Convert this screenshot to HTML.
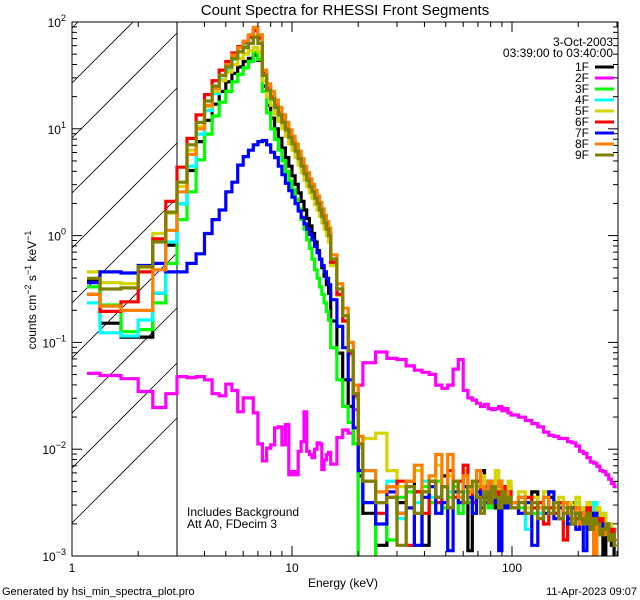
<!DOCTYPE html>
<html><head><meta charset="utf-8"><style>
html,body{margin:0;padding:0;background:#fff;}
svg{display:block;font-family:"Liberation Sans",sans-serif;}
</style></head><body>
<svg id="chart" width="640" height="600" viewBox="0 0 640 600" xmlns="http://www.w3.org/2000/svg">
<defs><clipPath id="plotclip"><rect x="72" y="22" width="546" height="534"/></clipPath></defs>
<rect x="0" y="0" width="640" height="600" fill="#fff"/>
<text x="345" y="15" font-size="15" text-anchor="middle">Count Spectra for RHESSI Front Segments</text>
<g id="hatch" clip-path="url(#plotclip)"></g>
<line x1="177" y1="22" x2="177" y2="556" stroke="#000" stroke-width="1"/>
<g id="series" clip-path="url(#plotclip)"></g>
<g id="axes"></g>
<text x="343" y="587" font-size="12" text-anchor="middle">Energy (keV)</text>
<text transform="translate(36,290) rotate(-90)" font-size="12" text-anchor="middle">counts cm<tspan dy="-5" font-size="9">−2</tspan><tspan dy="5"> s</tspan><tspan dy="-5" font-size="9">−1</tspan><tspan dy="5"> keV</tspan><tspan dy="-5" font-size="9">−1</tspan></text>
<text x="187" y="516" font-size="12">Includes Background</text>
<text x="187" y="528" font-size="12">Att A0, FDecim 3</text>
<text x="613" y="46" font-size="12" text-anchor="end">3-Oct-2003</text>
<text x="613" y="57" font-size="12" text-anchor="end">03:39:00 to 03:40:00</text>
<g id="legend"></g>
<text x="2" y="595" font-size="11">Generated by hsi_min_spectra_plot.pro</text>
<text x="637" y="595" font-size="11" text-anchor="end">11-Apr-2023 09:07</text>
</svg>
<script>
// ---- data (log10 counts cm^-2 s^-1 keV^-1) ----
const segments = ["1F","2F","3F","4F","5F","6F","7F","8F","9F"];
const colors = ["#000000","#ff00ff","#00ff00","#00ffff","#d4d400","#ff0000","#0000ff","#ff8000","#808000"];
const lowEdges = [1.17,1.34,1.67,2.0,2.33,2.67,3.0];
const xTickValues = [1,10,100];
const xTickLabels = ["1","10","100"];
const yTickExps = [-3,-2,-1,0,1,2];

const low1F=[-0.42,-0.82,-0.95,-0.95,-0.54,-0.09];
const low2F=[-1.29,-1.31,-1.34,-1.46,-1.61,-1.48];
const low3F=[-0.48,-0.65,-0.90,-0.88,-0.63,-0.26];
const low4F=[-0.63,-0.91,-0.94,-0.79,-0.54,-0.06];
const low5F=[-0.34,-0.44,-0.45,-0.30,0.02,0.21];
const low6F=[-0.55,-0.71,-0.62,-0.34,-0.03,0.32];
const low7F=[-0.44,-0.34,-0.35,-0.28,-0.26,-0.34];
const low8F=[-0.55,-0.66,-0.70,-0.70,-0.32,0.05];
const low9F=[-0.40,-0.50,-0.49,-0.29,-0.06,0.22];

const therm1F=[0.30,0.61,0.88,1.08,1.23,1.35,1.44,1.52,1.58,1.63,1.66,1.69,1.64,1.40,1.22,1.10,1.00,0.91,0.82,0.73,0.65,0.56,0.48,0.40,0.32,0.24,0.16,0.09,0.02,-0.06,-0.14,-0.22,-0.30,-0.38,-0.46,-0.54,-0.80,-1.10,-1.35,-1.60,-1.95,-2.25];
const therm2F=[-1.32,-1.33,-1.32,-1.35,-1.48,-1.50,-1.39,-1.45,-1.65,-1.52,-1.52,-1.66,-1.95,-2.11,-1.99,-1.96,-1.80,-1.79,-1.96,-1.77,-2.24,-2.21,-2.24,-2.02,-1.93,-1.65,-2.02,-2.05,-2.08,-2.00,-1.94,-1.95,-2.19,-2.10,-2.05,-2.03,-2.14,-1.89,-1.82,-1.85,-1.63,-1.40];
const therm3F=[0.15,0.41,0.71,0.95,1.12,1.25,1.35,1.44,1.51,1.57,1.63,1.72,1.65,1.35,1.15,1.00,0.90,0.80,0.70,0.60,0.51,0.43,0.34,0.25,0.15,0.06,-0.04,-0.12,-0.22,-0.32,-0.40,-0.48,-0.55,-0.63,-0.71,-0.79,-1.05,-1.35,-1.60,-1.75,-1.95,-3.3];
const therm4F=[0.30,0.65,0.95,1.17,1.33,1.46,1.56,1.65,1.72,1.78,1.85,1.92,1.84,1.50,1.35,1.27,1.19,1.12,1.05,0.98,0.91,0.85,0.78,0.71,0.64,0.57,0.51,0.45,0.40,0.34,0.29,0.23,0.17,0.11,0.05,-0.01,-0.27,-0.55,-0.80,-1.12,-1.52,-1.98];
const therm5F=[0.46,0.80,1.02,1.21,1.35,1.45,1.53,1.60,1.66,1.70,1.73,1.76,1.72,1.45,1.30,1.22,1.14,1.07,1.00,0.93,0.86,0.80,0.73,0.66,0.59,0.52,0.46,0.40,0.35,0.29,0.24,0.18,0.12,0.06,0.00,-0.06,-0.28,-0.56,-0.80,-1.12,-1.52,-1.98];
const therm6F=[0.64,0.91,1.13,1.32,1.45,1.55,1.63,1.71,1.77,1.81,1.86,1.92,1.85,1.52,1.38,1.30,1.22,1.15,1.08,1.01,0.94,0.88,0.81,0.74,0.67,0.60,0.54,0.48,0.43,0.37,0.32,0.26,0.20,0.14,0.08,0.02,-0.25,-0.55,-0.80,-1.10,-1.50,-1.95];
const therm7F=[-0.34,-0.26,-0.17,0.02,0.15,0.24,0.41,0.50,0.66,0.74,0.80,0.85,0.88,0.89,0.85,0.78,0.73,0.65,0.57,0.49,0.42,0.36,0.30,0.23,0.17,0.11,0.06,0.01,-0.04,-0.10,-0.16,-0.22,-0.28,-0.34,-0.40,-0.46,-0.60,-0.85,-1.05,-1.35,-1.80,-2.2];
const therm8F=[0.41,0.76,1.00,1.22,1.38,1.50,1.60,1.69,1.76,1.82,1.88,1.95,1.88,1.55,1.42,1.35,1.27,1.20,1.13,1.06,0.99,0.93,0.86,0.79,0.72,0.65,0.59,0.53,0.48,0.42,0.37,0.31,0.25,0.19,0.13,0.07,-0.18,-0.45,-0.68,-1.00,-1.40,-1.88];
const therm9F=[0.50,0.85,1.06,1.26,1.40,1.50,1.58,1.66,1.72,1.76,1.80,1.86,1.80,1.50,1.36,1.28,1.20,1.13,1.06,0.99,0.92,0.86,0.79,0.72,0.65,0.58,0.52,0.46,0.41,0.35,0.30,0.24,0.18,0.12,0.06,0.00,-0.22,-0.50,-0.75,-1.08,-1.48,-1.95];

const noise1F=[-2.6,-2.9,-2.35,-2.5,-2.3,-2.4,-2.9,-2.3,-2.45,-2.25,-2.55,-2.4,-2.3,-2.35,-2.95,-2.5,-2.3,-2.2,-2.45,-2.35,-2.5,-2.55,-2.3,-2.4,-2.45,-2.35,-2.5,-2.45,-2.6,-2.4,-2.5,-2.55,-2.45,-2.6,-2.5,-2.55,-2.65,-2.5,-2.6,-2.7,-2.55,-2.6,-2.75,-2.65,-2.7,-2.8,-3.1,-2.75,-2.85,-2.9,-3.1];
const noise2F=[-1.19,-1.09,-1.15,-1.16,-1.22,-1.26,-1.28,-1.30,-1.40,-1.43,-1.40,-1.25,-1.16,-1.45,-1.52,-1.54,-1.57,-1.60,-1.58,-1.62,-1.63,-1.62,-1.60,-1.64,-1.62,-1.66,-1.68,-1.70,-1.73,-1.76,-1.79,-1.84,-1.87,-1.88,-1.90,-1.90,-1.93,-1.94,-1.97,-2.02,-2.04,-2.08,-2.12,-2.13,-2.16,-2.20,-2.21,-2.24,-2.28,-2.32,-2.35];
const noise3F=[-3.3,-2.5,-2.85,-2.45,-2.4,-2.6,-2.35,-2.5,-2.3,-2.55,-2.45,-2.35,-2.6,-2.4,-2.5,-2.45,-2.35,-2.5,-2.4,-2.55,-2.45,-2.5,-2.4,-2.5,-2.45,-2.55,-2.5,-2.55,-2.45,-2.6,-2.5,-2.55,-2.6,-2.5,-2.65,-2.55,-2.6,-2.55,-2.65,-2.6,-2.7,-2.55,-2.6,-2.65,-2.7,-2.6,-2.65,-2.75,-2.7,-2.8,-2.75];
const noise4F=[-2.2,-2.4,-2.3,-2.65,-2.35,-2.5,-2.3,-2.45,-2.6,-2.35,-2.4,-2.3,-2.5,-2.4,-2.35,-2.6,-2.4,-2.5,-2.35,-2.45,-2.3,-2.5,-2.4,-2.45,-2.5,-2.4,-2.55,-2.45,-2.75,-2.5,-2.6,-2.45,-2.55,-2.6,-2.5,-2.7,-2.55,-2.6,-2.5,-2.65,-2.55,-2.7,-2.6,-2.5,-2.65,-2.7,-2.6,-2.75,-2.7,-2.8,-2.75];
const noise5F=[-1.9,-1.85,-2.2,-2.35,-2.3,-2.2,-2.4,-2.3,-2.15,-2.35,-2.25,-2.4,-2.3,-2.2,-2.35,-2.45,-2.3,-2.25,-2.4,-2.3,-2.35,-2.2,-2.45,-2.35,-2.4,-2.3,-2.5,-2.4,-2.55,-2.45,-2.5,-2.4,-2.55,-2.5,-2.45,-2.6,-2.5,-2.55,-2.45,-2.6,-2.55,-2.5,-2.65,-2.6,-2.55,-2.7,-2.6,-2.75,-2.7,-2.8,-2.75];
const noise6F=[-2.3,-2.6,-2.45,-2.3,-2.9,-2.4,-2.6,-2.3,-2.5,-2.35,-2.2,-2.45,-2.3,-2.15,-2.4,-2.5,-2.3,-2.45,-2.35,-2.3,-2.5,-2.4,-2.55,-2.35,-2.45,-2.4,-2.5,-2.6,-2.45,-2.55,-2.5,-2.7,-2.55,-2.6,-2.5,-2.85,-2.6,-2.55,-2.65,-2.6,-2.7,-2.55,-2.65,-2.6,-2.7,-2.65,-2.75,-2.7,-2.8,-2.75,-2.85];
const noise7F=[-2.5,-2.7,-2.4,-2.6,-2.55,-2.9,-2.45,-2.35,-2.6,-2.5,-2.95,-2.4,-2.5,-2.35,-2.45,-2.6,-2.4,-2.55,-2.5,-2.3,-2.45,-2.5,-2.95,-2.4,-2.55,-2.5,-2.55,-2.6,-2.5,-2.9,-2.55,-2.6,-2.4,-2.65,-2.55,-2.6,-2.7,-2.55,-2.75,-2.6,-2.95,-2.65,-2.7,-2.6,-2.75,-2.7,-2.8,-2.75,-2.85,-2.8,-2.9];
const noise8F=[-2.2,-2.4,-2.35,-2.6,-2.3,-2.15,-2.4,-2.25,-2.05,-2.35,-2.05,-2.3,-2.45,-2.25,-2.4,-2.3,-2.2,-2.35,-2.4,-2.3,-2.45,-2.35,-2.3,-2.5,-2.4,-2.45,-2.5,-2.45,-2.6,-2.5,-2.55,-2.45,-2.6,-2.55,-2.65,-2.5,-2.6,-2.65,-2.55,-2.7,-2.6,-2.65,-2.7,-3.2,-2.7,-2.75,-2.8,-2.7,-2.85,-2.8,-2.9];
const noise9F=[-2.3,-2.5,-2.45,-2.9,-2.35,-2.6,-2.4,-2.3,-2.45,-2.35,-2.55,-2.3,-2.4,-2.5,-2.35,-2.3,-2.45,-2.6,-2.4,-2.5,-2.35,-2.45,-2.55,-2.4,-2.5,-2.45,-2.55,-2.5,-2.6,-2.5,-2.65,-2.55,-2.6,-2.5,-2.65,-2.6,-2.55,-2.7,-2.6,-2.65,-2.7,-2.6,-2.75,-2.65,-2.7,-2.8,-2.75,-2.7,-2.85,-2.8,-2.9];

const lows=[low1F,low2F,low3F,low4F,low5F,low6F,low7F,low8F,low9F];
const therms=[therm1F,therm2F,therm3F,therm4F,therm5F,therm6F,therm7F,therm8F,therm9F];
const noises=[noise1F,noise2F,noise3F,noise4F,noise5F,noise6F,noise7F,noise8F,noise9F];

// ---- axes ----
const X0=72, XDEC=220, Y0=22, YDEC=106.8, XR=618, YB=556;
function xs(e){return X0+XDEC*Math.log10(e);}
function ys(lg){return Y0+(2-lg)*YDEC;}
const NS="http://www.w3.org/2000/svg";
function mk(tag,attrs,parent){const el=document.createElementNS(NS,tag);for(const k in attrs)el.setAttribute(k,attrs[k]);parent.appendChild(el);return el;}

// bin edges (binning scheme)
const edges=lowEdges.slice();
for(let k=1;k<=36;k++)edges.push(3+k/3);
for(let e=16;e<=21;e++)edges.push(e);
for(let e=24;e<=99;e+=3)edges.push(e);
for(let e=107;e<=299;e+=8)edges.push(e);

// hatch
const hatch=document.getElementById('hatch');
for(let k=-12;k<=8;k++){
  const yL=83+55*k;
  const l=mk('line',{x1:72,y1:yL,x2:177,y2:yL-105,stroke:'#000','stroke-width':0.8},hatch);
  
  
}

// series
const sg=document.getElementById('series');
for(let s=0;s<segments.length;s++){
  const vals=lows[s].concat(therms[s]).concat(noises[s]);
  const n=Math.min(vals.length,edges.length-1);
  let d='';
  for(let i=0;i<n;i++){
    const v=Math.max(vals[i],-3.4);
    const y=ys(v).toFixed(1);
    if(i===0)d+='M'+xs(edges[0]).toFixed(1)+','+y;
    else d+='V'+y;
    d+='H'+xs(edges[i+1]).toFixed(1);
  }
  const p=mk('path',{d:d,fill:'none',stroke:colors[s],'stroke-width':3.2,'stroke-linejoin':'miter','stroke-linecap':'butt'},sg);
  
  
}

// axes box and ticks
const ax=document.getElementById('axes');
const box=mk('rect',{x:X0,y:Y0,width:XR-X0,height:YB-Y0,fill:'none',stroke:'#000','stroke-width':1},ax);


for(let dec=0;dec<3;dec++){
  for(let m=1;m<=9;m++){
    const e=Math.pow(10,dec)*m; if(e>300)continue;
    const x=xs(e); const len=(m===1)?10:5;
    const t1=mk('line',{x1:x,y1:YB,x2:x,y2:YB-len,stroke:'#000','stroke-width':1},ax);
    
    
    const t2=mk('line',{x1:x,y1:Y0,x2:x,y2:Y0+len,stroke:'#000','stroke-width':1},ax);
    
    
  }
}
for(let i=0;i<xTickValues.length;i++){
  const t=mk('text',{x:xs(xTickValues[i]),y:YB+16,'font-size':12,'text-anchor':'middle'},ax);
  t.textContent=xTickLabels[i];
  
  
}
for(let ex=-3;ex<2;ex++){
  for(let m=1;m<=9;m++){
    const lg=ex+Math.log10(m); const y=ys(lg); const len=(m===1)?10:5;
    const t1=mk('line',{x1:X0,y1:y,x2:X0+len,y2:y,stroke:'#000','stroke-width':1},ax);
    
    
    const t2=mk('line',{x1:XR,y1:y,x2:XR-len,y2:y,stroke:'#000','stroke-width':1},ax);
    
    
  }
}
for(const ex of yTickExps){
  const y=ys(ex);
  const t=mk('text',{x:66,y:y+5,'font-size':12,'text-anchor':'end'},ax);
  
  
  const a=document.createElementNS(NS,'tspan');a.textContent='10';t.appendChild(a);
  const b=document.createElementNS(NS,'tspan');b.setAttribute('dy','-6');b.setAttribute('font-size','9');b.textContent=(ex<0?'−':'')+Math.abs(ex);t.appendChild(b);
}

// legend
const lg=document.getElementById('legend');
for(let s=0;s<segments.length;s++){
  const y=67+11*s;
  const g=mk('g',{},lg);
  
  
  const t=mk('text',{x:589,y:y+4,'font-size':12,'text-anchor':'end'},g);
  t.textContent=segments[s];
  const l=mk('line',{x1:595,y1:y,x2:614,y2:y,stroke:colors[s],'stroke-width':3},g);
  
  
}
</script>
</body></html>
